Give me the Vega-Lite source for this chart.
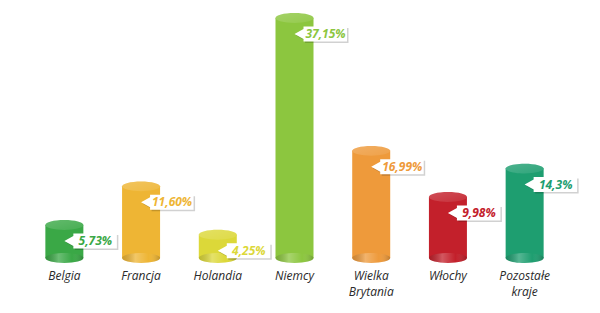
{
  "$schema": "https://vega.github.io/schema/vega-lite/v6.json",
  "autosize": "none",
  "width": 537,
  "height": 250,
  "padding": {"left": 26, "top": 8, "right": 37, "bottom": 55},
  "background": "white",
  "config": {"view": {"stroke": null}},
  "data": {"values": [
    {"kraj": "Belgia", "udzial": 5.73, "etykieta": "5,73%"},
    {"kraj": "Francja", "udzial": 11.60, "etykieta": "11,60%"},
    {"kraj": "Holandia", "udzial": 4.25, "etykieta": "4,25%"},
    {"kraj": "Niemcy", "udzial": 37.15, "etykieta": "37,15%"},
    {"kraj": "Wielka Brytania", "udzial": 16.99, "etykieta": "16,99%"},
    {"kraj": "Włochy", "udzial": 9.98, "etykieta": "9,98%"},
    {"kraj": "Pozostałe kraje", "udzial": 14.3, "etykieta": "14,3%"}
  ]},
  "encoding": {
    "x": {"field": "kraj", "type": "nominal", "sort": null,
      "scale": {"paddingInner": 0, "paddingOuter": 0},
      "axis": {"title": null, "domain": false, "ticks": false, "labelAngle": 0,
        "labelPadding": 12, "labelFont": "Open Sans", "labelFontStyle": "italic",
        "labelFontSize": 12, "labelColor": "#2a2a2a", "labelLineHeight": 16.5,
        "labelExpr": "split(datum.label, ' ')"}},
    "color": {"field": "kraj", "type": "nominal", "sort": null, "legend": null,
      "scale": {"domain": ["Belgia", "Francja", "Holandia", "Niemcy", "Wielka Brytania", "Włochy", "Pozostałe kraje"],
        "range": ["#3aa846", "#eeb534", "#dcd839", "#8cc63f", "#ee9a3b", "#c3202b", "#1e9e70"]}}
  },
  "layer": [
    {"mark": {"type": "bar", "size": 38},
     "encoding": {"y": {"field": "udzial", "type": "quantitative", "axis": null,
        "scale": {"domain": [0.73, 38.67], "zero": false, "nice": false}},
       "y2": {"datum": 0.73}}},
    {"mark": {"type": "point", "filled": true, "opacity": 1, "size": 1444, "strokeWidth": 0,
       "shape": "M-1,0 A1,0.26 0 1,0 1,0 A1,0.26 0 1,0 -1,0 Z"},
     "encoding": {"y": {"datum": 0.73, "type": "quantitative"}}},
    {"mark": {"type": "bar", "size": 38,
       "color": {"gradient": "linear", "x1": 0, "x2": 1, "y1": 0, "y2": 0,
         "stops": [{"offset": 0, "color": "rgba(0,0,0,0.14)"}, {"offset": 0.35, "color": "rgba(255,255,255,0.25)"}, {"offset": 0.7, "color": "rgba(255,255,255,0)"}, {"offset": 1, "color": "rgba(0,0,0,0.2)"}]}},
     "encoding": {"color": {"value": null}, "y": {"field": "udzial", "type": "quantitative"}, "y2": {"datum": 0.73}}},
    {"mark": {"type": "point", "filled": true, "opacity": 1, "size": 1444, "strokeWidth": 0,
       "shape": "M-1,0 A1,0.26 0 1,0 1,0 A1,0.26 0 1,0 -1,0 Z",
       "fill": {"gradient": "linear", "x1": 0, "x2": 1, "y1": 0, "y2": 0,
         "stops": [{"offset": 0, "color": "rgba(0,0,0,0.14)"}, {"offset": 0.35, "color": "rgba(255,255,255,0.25)"}, {"offset": 0.7, "color": "rgba(255,255,255,0)"}, {"offset": 1, "color": "rgba(0,0,0,0.2)"}]}},
     "encoding": {"color": {"value": null}, "y": {"datum": 0.73, "type": "quantitative"}}},
    {"mark": {"type": "point", "filled": true, "opacity": 1, "size": 1444, "strokeWidth": 0,
       "shape": "M-1,0 A1,0.26 0 1,0 1,0 A1,0.26 0 1,0 -1,0 Z"},
     "encoding": {"y": {"field": "udzial", "type": "quantitative"}}},
    {"mark": {"type": "point", "filled": true, "size": 1444, "strokeWidth": 0,
       "shape": "M-1,0 A1,0.26 0 1,0 1,0 A1,0.26 0 1,0 -1,0 Z",
       "fill": {"gradient": "linear", "x1": 0, "x2": 1, "y1": 0, "y2": 1,
         "stops": [{"offset": 0, "color": "rgba(255,255,255,0.3)"}, {"offset": 1, "color": "rgba(255,255,255,0.1)"}]}},
     "encoding": {"color": {"value": null}, "y": {"field": "udzial", "type": "quantitative"}}},
    {"mark": {"type": "point", "filled": true, "size": 2500, "strokeWidth": 0, "opacity": 0.18,
       "fill": "#000000", "xOffset": 1.5, "yOffset": 17.5,
       "shape": "M0,0 L0.36,-0.2 L0.36,-0.3 L2.1,-0.3 L2.1,0.3 L0.36,0.3 L0.36,0.2 Z"},
     "encoding": {"color": {"value": null}, "y": {"field": "udzial", "type": "quantitative"}}},
    {"mark": {"type": "point", "filled": true, "size": 2500, "strokeWidth": 0, "opacity": 1,
       "fill": "#ffffff", "yOffset": 16,
       "shape": "M0,0 L0.36,-0.2 L0.36,-0.3 L2.1,-0.3 L2.1,0.3 L0.36,0.3 L0.36,0.2 Z"},
     "encoding": {"color": {"value": null}, "y": {"field": "udzial", "type": "quantitative"}}},
    {"mark": {"type": "text", "font": "Open Sans", "fontStyle": "italic", "fontWeight": "bold",
       "fontSize": 12, "align": "center", "baseline": "middle", "dx": 31, "dy": 16},
     "encoding": {"y": {"field": "udzial", "type": "quantitative"}, "text": {"field": "etykieta"}}}
  ]
}
